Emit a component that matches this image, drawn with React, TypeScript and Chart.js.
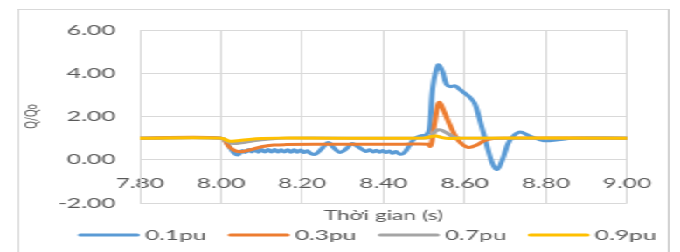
import React, { useEffect, useRef } from 'react';
import Chart from 'chart.js/auto';

// ---- data (time in s, Q/Qo) ----
const tBlue = [7.8, 8.0, 8.015, 8.03, 8.042, 8.052, 8.06, 8.068, 8.076, 8.084, 8.092, 8.1, 8.108, 8.116, 8.124, 8.132, 8.14, 8.148, 8.156, 8.164, 8.172, 8.18, 8.188, 8.196, 8.204, 8.212, 8.22, 8.232, 8.25, 8.264, 8.278, 8.293, 8.308, 8.322, 8.336, 8.35, 8.358, 8.366, 8.374, 8.382, 8.39, 8.398, 8.406, 8.414, 8.422, 8.43, 8.44, 8.45, 8.462, 8.475, 8.49, 8.505, 8.513, 8.522, 8.535, 8.545, 8.555, 8.565, 8.576, 8.588, 8.6, 8.612, 8.625, 8.638, 8.654, 8.668, 8.68, 8.693, 8.71, 8.735, 8.76, 8.795, 8.83, 8.87, 9.0];
const vBlue = [1.0, 1.0, 0.75, 0.35, 0.22, 0.42, 0.34, 0.47, 0.36, 0.48, 0.35, 0.47, 0.36, 0.47, 0.36, 0.47, 0.36, 0.46, 0.36, 0.46, 0.35, 0.46, 0.35, 0.45, 0.33, 0.42, 0.3, 0.25, 0.55, 0.8, 0.55, 0.34, 0.5, 0.75, 0.62, 0.45, 0.38, 0.46, 0.36, 0.44, 0.35, 0.43, 0.33, 0.41, 0.3, 0.38, 0.26, 0.3, 0.6, 0.95, 1.1, 1.15, 1.4, 3.4, 4.38, 4.1, 3.5, 3.38, 3.42, 3.25, 3.08, 2.9, 2.6, 1.8, 0.72, -0.15, -0.45, 0.0, 0.85, 1.28, 1.1, 0.88, 0.92, 1.0, 1.0];

const tOrange = [7.8, 8.0, 8.02, 8.042, 8.07, 8.1, 8.13, 8.16, 8.3, 8.45, 8.51, 8.515, 8.52, 8.527, 8.537, 8.55, 8.565, 8.585, 8.608, 8.63, 8.648, 8.67, 8.7, 9.0];
const vOrange = [1.0, 1.0, 0.6, 0.38, 0.45, 0.6, 0.68, 0.7, 0.72, 0.72, 0.72, 0.62, 0.9, 1.8, 2.65, 2.2, 1.55, 0.88, 0.57, 0.68, 0.88, 0.98, 1.0, 1.0];

const tGray = [7.8, 8.0, 8.015, 8.03, 8.05, 8.08, 8.12, 8.16, 8.5, 8.515, 8.53, 8.54, 8.555, 8.57, 8.59, 9.0];
const vGray = [1.0, 1.0, 0.85, 0.75, 0.78, 0.88, 0.96, 1.0, 1.0, 1.05, 1.35, 1.38, 1.25, 1.08, 1.0, 1.0];

const tYellow = [7.8, 8.0, 8.02, 8.04, 8.07, 8.1, 8.14, 8.5, 8.52, 8.53, 8.545, 8.56, 8.6, 9.0];
const vYellow = [1.0, 1.0, 0.86, 0.88, 0.94, 0.98, 1.0, 1.0, 1.08, 1.1, 1.02, 0.98, 1.0, 1.0];

const seriesLabels = ['0.1pu', '0.3pu', '0.7pu', '0.9pu'];
const seriesColors = ['#5B9BD5', '#ED7D31', '#A5A5A5', '#FFC000'];

const xMin = 7.8;
const xMax = 9.0;
const xStep = 0.2;
const yMin = -2;
const yMax = 6;
const yStep = 2;
const xTitle = 'Thời gian (s)';
const yTitle = 'Q/Qo';

const CANVAS_W = 389;
const CANVAS_H = 252;
const STRETCH = 680 / CANVAS_W;
const FONT = 'Lato';
const TEXT = '#595959';
const GRID = '#D9D9D9';
const PLOT_LEFT = 80;

// legend layout (canvas units, before horizontal stretch)
const LEGEND_X = 46;
const LEGEND_STEP = 85.8;
const LEGEND_LINE = 32.5;
const LEGEND_TEXT_DX = 38.4;
const LEGEND_Y = 235;

function toPoints(ts: number[], vs: number[]) {
  return ts.map((t, i) => ({ x: t, y: vs[i] }));
}

const bottomLegend = {
  id: 'bottomLegend',
  afterDraw(chart: any) {
    const ctx = chart.ctx as CanvasRenderingContext2D;
    ctx.save();
    ctx.font = `14px ${FONT}`;
    ctx.textBaseline = 'middle';
    ctx.textAlign = 'left';
    chart.data.datasets.forEach((ds: any, i: number) => {
      const x = LEGEND_X + i * LEGEND_STEP;
      ctx.strokeStyle = ds.borderColor;
      ctx.lineWidth = 3;
      ctx.lineCap = 'round';
      ctx.beginPath();
      ctx.moveTo(x, LEGEND_Y);
      ctx.lineTo(x + LEGEND_LINE, LEGEND_Y);
      ctx.stroke();
      ctx.fillStyle = TEXT;
      ctx.fillText(ds.label, x - 1.5 + LEGEND_TEXT_DX, LEGEND_Y);
    });
    ctx.restore();
  },
};

export default function App() {
  const ref = useRef<HTMLCanvasElement>(null);

  useEffect(() => {
    const series = [
      [tBlue, vBlue],
      [tOrange, vOrange],
      [tGray, vGray],
      [tYellow, vYellow],
    ];
    const chart = new Chart(ref.current as HTMLCanvasElement, {
      type: 'line',
      data: {
        datasets: series.map(([ts, vs], i) => ({
          label: seriesLabels[i],
          data: toPoints(ts as number[], vs as number[]),
          borderColor: seriesColors[i],
          backgroundColor: seriesColors[i],
          order: 4 - i,
        })),
      },
      options: {
        responsive: false,
        animation: false,
        devicePixelRatio: 1,
        layout: { padding: { top: 30, right: 30.3, bottom: 28.2, left: 0 } },
        elements: {
          point: { radius: 0, hoverRadius: 0 },
          line: { borderWidth: 3, tension: 0.35, borderJoinStyle: 'round', borderCapStyle: 'round' },
        },
        scales: {
          x: {
            type: 'linear',
            position: { y: 0 } as any,
            min: xMin,
            max: xMax,
            ticks: {
              stepSize: xStep,
              padding: 15.6,
              color: TEXT,
              font: { family: FONT, size: 14 },
              maxRotation: 0,
              autoSkip: false,
              callback: (v: any) => Number(v).toFixed(2),
            },
            grid: { color: GRID, drawTicks: false },
            border: { color: GRID },
          },
          y: {
            type: 'linear',
            min: yMin,
            max: yMax,
            ticks: {
              stepSize: yStep,
              padding: 14,
              color: TEXT,
              font: { family: FONT, size: 14 },
              callback: (v: any) => Number(v).toFixed(2),
            },
            grid: { color: GRID, drawTicks: false },
            border: { color: GRID },
            title: {
              display: true,
              text: yTitle,
              color: TEXT,
              font: { family: FONT, size: 9.5 },
              padding: { top: 12.3, bottom: 0 },
            },
            afterFit: (scale: any) => {
              scale.width = PLOT_LEFT;
            },
          },
        },
        plugins: {
          legend: { display: false },
          title: {
            display: true,
            text: xTitle,
            position: 'bottom',
            fullSize: false,
            color: TEXT,
            padding: { top: 5.2, bottom: 0 },
            font: { family: FONT, size: 13, weight: 'normal' },
          },
          tooltip: { enabled: false },
        },
      } as any,
      plugins: [bottomLegend],
    });
    return () => chart.destroy();
  }, []);

  return (
    <div style={{ position: 'fixed', left: 0, top: 0, width: 680, height: 252, overflow: 'hidden', background: '#fff' }}>
      <div
        style={{
          position: 'absolute',
          left: 0,
          top: 0,
          width: CANVAS_W,
          height: CANVAS_H,
          transform: `scaleX(${STRETCH})`,
          transformOrigin: '0 0',
        }}
      >
        <div
          style={{
            position: 'absolute',
            left: 9.7,
            top: 9,
            width: 373.6,
            height: 270,
            border: '1px solid #D9D9D9',
            borderRightColor: '#C4C4C4',
            boxSizing: 'border-box',
          }}
        />
        <canvas
          ref={ref}
          width={CANVAS_W}
          height={CANVAS_H}
          style={{ position: 'absolute', left: 0, top: 0, width: CANVAS_W, height: CANVAS_H }}
        />
      </div>
    </div>
  );
}
